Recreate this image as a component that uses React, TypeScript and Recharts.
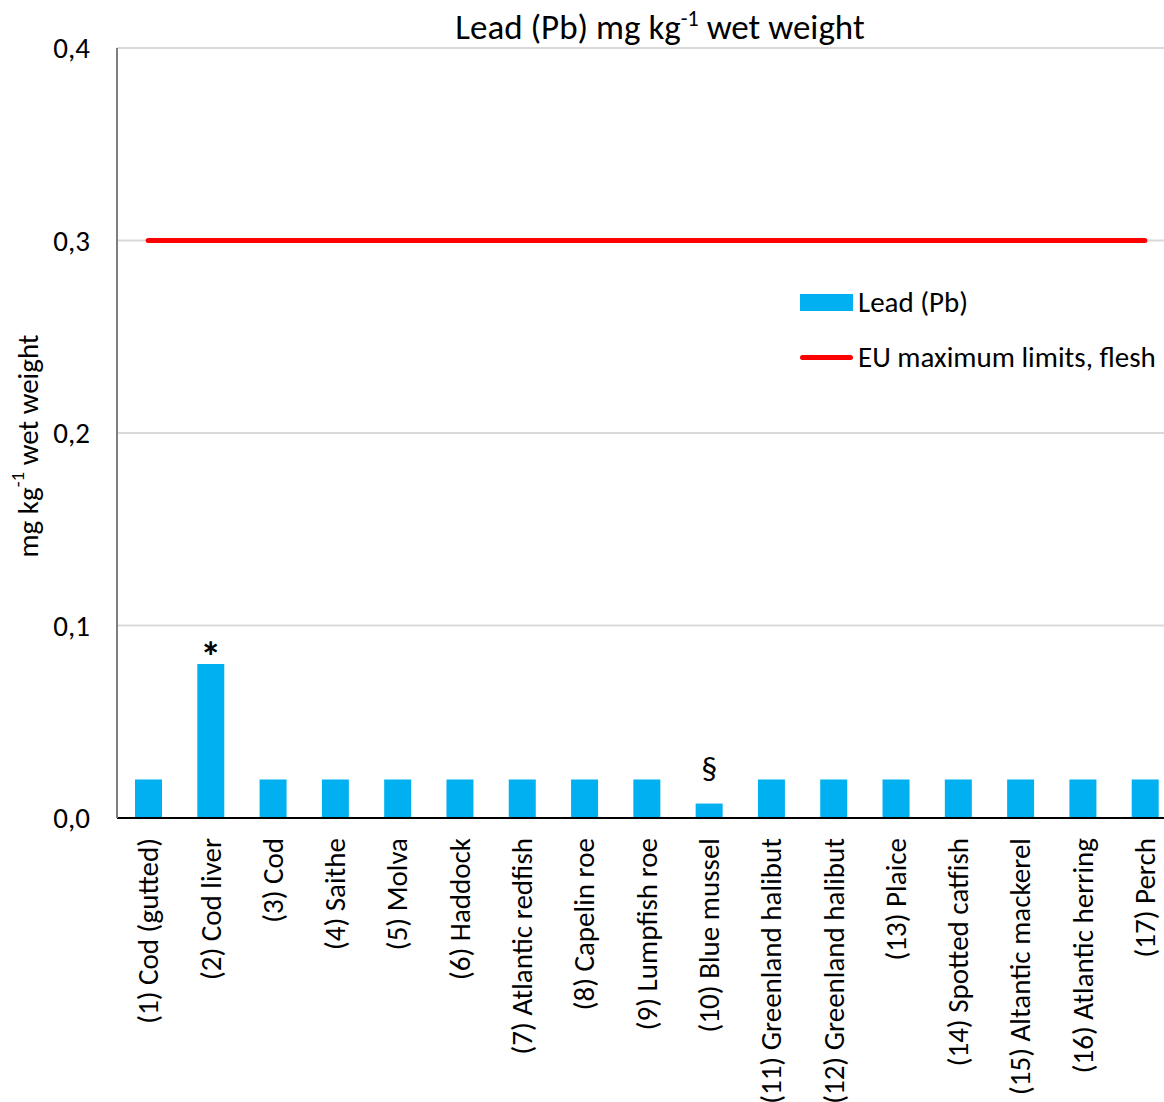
import {
  Bar,
  CartesianGrid,
  ComposedChart,
  LabelList,
  Legend,
  Line,
  XAxis,
  YAxis,
} from 'recharts'

const categories = [
  '(1) Cod (gutted)',
  '(2) Cod liver',
  '(3) Cod',
  '(4) Saithe',
  '(5) Molva',
  '(6) Haddock',
  '(7) Atlantic redfish',
  '(8) Capelin roe',
  '(9) Lumpfish roe',
  '(10) Blue mussel',
  '(11) Greenland halibut',
  '(12) Greenland halibut',
  '(13) Plaice',
  '(14) Spotted catfish',
  '(15) Altantic mackerel',
  '(16) Atlantic herring',
  '(17) Perch',
]

// mean lead content, mg/kg wet weight
const lead = [
  0.02, 0.08, 0.02, 0.02, 0.02, 0.02, 0.02, 0.02, 0.02, 0.0075, 0.02, 0.02, 0.02,
  0.02, 0.02, 0.02, 0.02,
]

const euLimit = [
  0.3, 0.3, 0.3, 0.3, 0.3, 0.3, 0.3, 0.3, 0.3, 0.3, 0.3, 0.3, 0.3, 0.3, 0.3, 0.3, 0.3,
]

const notes = ['', '*', '', '', '', '', '', '', '', '§', '', '', '', '', '', '', '']

const yTicks = [0, 0.1, 0.2, 0.3, 0.4]

const data = categories.map((name, i) => ({
  name,
  lead: lead[i],
  limit: euLimit[i],
  note: notes[i],
}))

const FONT = 'Carlito, Lato, "Open Sans", sans-serif'
const FS = 29
const BLUE = '#00B0F0'
const RED = '#FF0000'

const fmt = (v: number) => v.toFixed(1).replace('.', ',')

const CategoryTick = ({ x, y, payload }: any) => (
  <g transform={`translate(${x},${y})`}>
    <text
      transform="rotate(-90)"
      textAnchor="end"
      dy="0.35em"
      fontSize={FS}
      fontFamily={FONT}
      fill="#000"
    >
      {payload.value}
    </text>
  </g>
)

// '*' sits high in the em box, '§' hangs below the baseline
const noteGap: Record<string, number> = { '*': -8, '§': 24 }
const noteSize: Record<string, number> = { '*': 42, '§': 32 }

const NoteLabel = ({ x, y, width, value }: any) => {
  if (!value) return null
  return (
    <text
      x={x + width / 2}
      y={y - (noteGap[value] ?? 6)}
      textAnchor="middle"
      fontSize={noteSize[value] ?? 30}
      fontWeight={value === '*' ? 700 : 400}
      fontFamily={FONT}
      fill="#000"
    >
      {value}
    </text>
  )
}

const LegendBox = () => (
  <div style={{ fontFamily: FONT, fontSize: FS, color: '#000', whiteSpace: 'nowrap' }}>
    <div style={{ display: 'flex', alignItems: 'center', height: 34 }}>
      <span style={{ width: 53, height: 17, background: BLUE, marginRight: 5 }} />
      Lead (Pb)
    </div>
    <div style={{ display: 'flex', alignItems: 'center', height: 34, marginTop: 21 }}>
      <span
        style={{ width: 53, height: 5, borderRadius: 3, background: RED, marginRight: 5 }}
      />
      EU maximum limits, flesh
    </div>
  </div>
)

const YLabel = () => (
  <text
    x={28}
    y={446}
    transform="rotate(-90 28 446)"
    textAnchor="middle"
    dominantBaseline="central"
    fontSize={FS}
    fontFamily={FONT}
    fill="#000"
  >
    mg kg
    <tspan dy={-11} fontSize={19}>
      -1
    </tspan>
    <tspan dy={11}> wet weight</tspan>
  </text>
)

export default function App() {
  return (
    <div
      style={{
        position: 'absolute',
        left: 0,
        top: 0,
        width: 1164,
        height: 1102,
        overflow: 'hidden',
        background: '#fff',
      }}
    >
      <div
        style={{
          position: 'absolute',
          top: 5,
          left: 0,
          width: 1320,
          textAlign: 'center',
          fontFamily: FONT,
          fontSize: 35,
          lineHeight: '44px',
          color: '#000',
          zIndex: 1,
        }}
      >
        Lead (Pb) mg kg<sup style={{ fontSize: 22, lineHeight: 0 }}>-1</sup> wet weight
      </div>
      <ComposedChart
        width={1176}
        height={1102}
        data={data}
        margin={{ top: 48, right: 0, bottom: 0, left: 0 }}
        barCategoryGap={0}
      >
        <CartesianGrid vertical={false} stroke="#d9d9d9" strokeWidth={2} />
        <XAxis
          dataKey="name"
          interval={0}
          height={284}
          tick={<CategoryTick />}
          tickLine={false}
          tickSize={0}
          tickMargin={20}
          axisLine={{ stroke: '#000', strokeWidth: 2 }}
        />
        <YAxis
          width={117}
          domain={[0, 0.4]}
          ticks={yTicks}
          tickFormatter={fmt}
          tickLine={false}
          tickSize={0}
          tickMargin={27}
          tick={{ fill: '#000', fontSize: FS, fontFamily: FONT }}
          axisLine={{ stroke: '#7f7f7f', strokeWidth: 2 }}
          label={{ content: () => <YLabel /> }}
        />
        <Legend
          layout="vertical"
          align="center"
          verticalAlign="middle"
          content={() => <LegendBox />}
          wrapperStyle={{ position: 'absolute', top: 285, left: 800, width: 380 }}
        />
        <Bar dataKey="lead" name="Lead (Pb)" fill={BLUE} barSize={27} isAnimationActive={false}>
          <LabelList dataKey="note" content={<NoteLabel />} />
        </Bar>
        <Line
          dataKey="limit"
          name="EU maximum limits, flesh"
          type="linear"
          stroke={RED}
          strokeWidth={5}
          strokeLinecap="round"
          dot={false}
          activeDot={false}
          isAnimationActive={false}
        />
      </ComposedChart>
    </div>
  )
}
